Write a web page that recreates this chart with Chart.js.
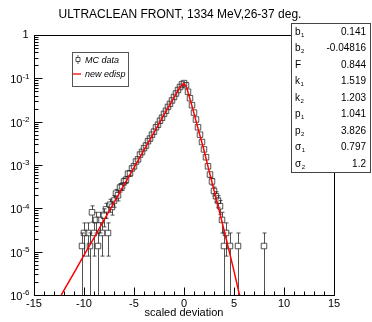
<!DOCTYPE html>
<html><head><meta charset="utf-8">
<script src="https://cdn.jsdelivr.net/npm/chart.js@4/dist/chart.umd.min.js"></script>
<style>html,body{margin:0;padding:0;background:#fff;}#wrap{width:372px;height:322px;}</style>
</head><body><div id="wrap"><canvas id="c" width="372" height="322"></canvas></div>
<script>
const titleText = 'ULTRACLEAN FRONT, 1334 MeV,26-37 deg.';
const xTitle = 'scaled deviation';
const xTickValues = [-15, -10, -5, 0, 5, 10, 15];
const yDecadeExps = [0, -1, -2, -3, -4, -5, -6];
const legendLabels = ['MC data', 'new edisp'];
const statNames = ['b', 'b', 'F', 'k', 'k', 'p', 'p', 'σ', 'σ'];
const statSubs = ['1', '2', '', '1', '2', '1', '2', '1', '2'];
const statValues = ['0.141', '-0.04816', '0.844', '1.519', '1.203', '1.041', '3.826', '0.797', '1.2'];

// fitted curve (new edisp)
const fitX = [-12.5, -12, -11, -10, -9, -8, -7, -6, -5, -4, -3, -2, -1.5, -1, -0.75, -0.5, -0.25, 0, 0.25, 0.5, 0.75, 1, 1.5, 2, 2.5, 3, 3.5, 4, 4.5, 5, 5.6];
const fitY = [8.1e-7, 1.29e-6, 3.24e-6, 8.3e-6, 2.09e-5, 5.37e-5, 1.35e-4, 3.47e-4, 8.7e-4, 2.24e-3, 5.6e-3, 1.45e-2, 2.29e-2, 3.63e-2, 4.57e-2, 5.75e-2, 6.9e-2, 7.6e-2, 6.3e-2, 3.98e-2, 2.51e-2, 1.55e-2, 5.75e-3, 2.19e-3, 7.4e-4, 2.63e-4, 9.3e-5, 3.16e-5, 1.07e-5, 3.55e-6, 8.9e-7];

// MC data
const dataX = [-10.2, -10.0, -9.6, -9.4, -9.2, -9.0, -8.8, -8.6, -8.4, -8.2, -8.0, -7.8, -7.6, -7.4, -7.2,
  -7.0, -6.8, -6.6, -6.4, -6.2, -6.0, -5.8, -5.6, -5.4, -5.2, -5.0, -4.8, -4.6, -4.4, -4.2, -4.0, -3.8, -3.6, -3.4, -3.2, -3.0,
  -2.8, -2.6, -2.4, -2.2, -2.0, -1.8, -1.6, -1.4, -1.2, -1.0, -0.8, -0.6, -0.4, -0.2, 0.0,
  0.2, 0.4, 0.6, 0.8, 1.0, 1.2, 1.4, 1.6, 1.8, 2.0, 2.2, 2.4, 2.6, 2.8, 3.0, 3.2, 3.4, 3.6, 3.8, 4.0, 4.2, 4.6, 5.4, 8.0];
const dataY = [1.35e-5, 2.7e-5, 2.7e-5, 1.35e-5, 8.1e-5, 2.7e-5, 5.4e-5, 1.35e-5, 5.4e-5, 2.7e-5, 6.75e-5, 9.45e-5, 2.7e-5, 1.215e-4, 1.08e-4,
  1.51e-4, 2.19e-4, 2.0e-4, 3.02e-4, 3.24e-4, 4.17e-4, 4.57e-4, 6.31e-4, 6.46e-4, 8.32e-4, 9.33e-4, 1.2e-3, 1.35e-3, 1.74e-3, 2.0e-3, 2.45e-3, 2.82e-3, 3.55e-3, 4.07e-3, 5.01e-3, 5.89e-3,
  7.41e-3, 8.51e-3, 1.05e-2, 1.23e-2, 1.51e-2, 1.78e-2, 2.19e-2, 2.57e-2, 3.09e-2, 3.72e-2, 4.47e-2, 5.37e-2, 6.31e-2, 7.24e-2, 7.76e-2,
  6.92e-2, 4.9e-2, 3.47e-2, 2.4e-2, 1.62e-2, 1.12e-2, 7.41e-3, 5.01e-3, 3.39e-3, 2.29e-3, 1.51e-3, 9.33e-4, 6.03e-4, 4.17e-4, 2.51e-4, 1.91e-4, 1.51e-4, 1.12e-4, 5.4e-5, 1.35e-5, 2.7e-5, 1.35e-5, 1.35e-5, 1.35e-5];
const dataErr = [1.35e-5, 1.91e-5, 1.91e-5, 1.35e-5, 3.31e-5, 1.91e-5, 2.7e-5, 1.35e-5, 2.7e-5, 1.91e-5, 3.02e-5, 3.57e-5, 1.91e-5, 4.05e-5, 3.82e-5,
  4.5e-5, 5.4e-5, 5.2e-5, 6.4e-5, 6.6e-5, 7.5e-5, 7.9e-5, 9.2e-5, 9.3e-5, 1.06e-4, 1.12e-4, 1.27e-4, 1.35e-4, 1.53e-4, 1.64e-4, 1.82e-4, 1.95e-4, 2.19e-4, 2.34e-4, 2.6e-4, 2.82e-4,
  3.16e-4, 3.39e-4, 3.77e-4, 4.07e-4, 4.52e-4, 4.9e-4, 5.44e-4, 5.89e-4, 6.46e-4, 7.09e-4, 7.77e-4, 8.51e-4, 9.23e-4, 9.89e-4, 1.02e-3,
  9.67e-4, 8.13e-4, 6.84e-4, 5.69e-4, 4.68e-4, 3.89e-4, 3.16e-4, 2.6e-4, 2.14e-4, 1.76e-4, 1.43e-4, 1.12e-4, 9.0e-5, 7.5e-5, 5.8e-5, 5.1e-5, 4.5e-5, 3.9e-5, 2.7e-5, 1.35e-5, 1.91e-5, 1.35e-5, 1.35e-5, 1.35e-5];

const FONT = '"Liberation Sans", Arial, sans-serif';
const markColor = 'rgba(40,40,40,0.8)';

const rootPlugin = {
  id: 'rootDecor',
  beforeDatasetsDraw(chart) {
    const ctx = chart.ctx, xs = chart.scales.x, ys = chart.scales.y, a = chart.chartArea;
    ctx.save();
    ctx.beginPath(); ctx.rect(a.left, a.top, a.right - a.left, a.bottom - a.top); ctx.clip();
    ctx.strokeStyle = markColor; ctx.lineWidth = 1;
    const h = 2.8, cap = 2;
    for (let i = 0; i < dataX.length; i++) {
      const px = Math.round(xs.getPixelForValue(dataX[i])) + 0.5;
      const py = ys.getPixelForValue(dataY[i]);
      const hiV = dataY[i] + dataErr[i], loV = dataY[i] - dataErr[i];
      const pHi = ys.getPixelForValue(hiV);
      const pLo = loV > 1e-9 ? Math.min(ys.getPixelForValue(loV), a.bottom) : a.bottom;
      ctx.beginPath();
      if (pHi < py - h) { ctx.moveTo(px, py - h); ctx.lineTo(px, pHi); ctx.moveTo(px - cap, pHi); ctx.lineTo(px + cap, pHi); }
      if (pLo > py + h) { ctx.moveTo(px, py + h); ctx.lineTo(px, pLo); if (pLo < a.bottom) { ctx.moveTo(px - cap, pLo); ctx.lineTo(px + cap, pLo); } }
      ctx.stroke();
    }
    ctx.restore();
  },
  afterDraw(chart) {
    const ctx = chart.ctx, xs = chart.scales.x, ys = chart.scales.y, a = chart.chartArea;
    ctx.save();
    const L = Math.round(a.left) + 0.5, R = Math.round(a.right) + 0.5, T = Math.round(a.top) + 0.5, B = Math.round(a.bottom) + 0.5;
    ctx.strokeStyle = '#000'; ctx.lineWidth = 1;
    ctx.strokeRect(L, T, R - L, B - T);
    // x ticks
    ctx.beginPath();
    for (let v = -15; v <= 15; v++) {
      const px = Math.round(xs.getPixelForValue(v)) + 0.5;
      const len = (v % 5 === 0) ? 8 : 4;
      ctx.moveTo(px, B); ctx.lineTo(px, B - len);
    }
    // y ticks
    for (const e of yDecadeExps) {
      const py = Math.round(ys.getPixelForValue(Math.pow(10, e))) + 0.5;
      ctx.moveTo(L, py); ctx.lineTo(L + 8, py);
      if (e < 0) {
        for (let m = 2; m <= 9; m++) {
          const pm = Math.round(ys.getPixelForValue(m * Math.pow(10, e))) + 0.5;
          ctx.moveTo(L, pm); ctx.lineTo(L + 4, pm);
        }
      }
    }
    ctx.stroke();
    // x labels
    ctx.fillStyle = '#000';
    ctx.font = '11px ' + FONT; ctx.textAlign = 'center'; ctx.textBaseline = 'middle';
    for (const v of xTickValues) ctx.fillText(String(v), xs.getPixelForValue(v), B + 8);
    // y labels
    for (const e of yDecadeExps) {
      const py = ys.getPixelForValue(Math.pow(10, e));
      if (e === 0) {
        ctx.font = '11px ' + FONT; ctx.textAlign = 'right'; ctx.textBaseline = 'middle';
        ctx.fillText('1', L - 6, py);
      } else {
        const sup = String(e);
        ctx.font = '8px ' + FONT; const sw = ctx.measureText(sup).width;
        ctx.textAlign = 'right'; ctx.textBaseline = 'middle';
        ctx.fillText(sup, L - 5, py - 2);
        ctx.font = '11px ' + FONT;
        ctx.fillText('10', L - 5 - sw, py + 2);
      }
    }
    // axis title
    ctx.font = '11px ' + FONT; ctx.textAlign = 'center'; ctx.textBaseline = 'middle';
    ctx.fillText(xTitle, xs.getPixelForValue(0), 313);
    // title
    ctx.font = '12px ' + FONT;
    ctx.fillText(titleText, 180, 15);
    // legend
    ctx.fillStyle = '#fff'; ctx.fillRect(72.5, 52.5, 56, 34);
    ctx.strokeStyle = '#555'; ctx.strokeRect(72.5, 52.5, 56, 34);
    ctx.strokeStyle = markColor; ctx.beginPath();
    ctx.rect(76, 57.5, 4, 4); ctx.moveTo(78, 55); ctx.lineTo(78, 57.5); ctx.moveTo(78, 61.5); ctx.lineTo(78, 64);
    ctx.stroke();
    ctx.strokeStyle = '#ff0000'; ctx.lineWidth = 1.3; ctx.beginPath(); ctx.moveTo(73, 74); ctx.lineTo(81, 74); ctx.stroke();
    ctx.fillStyle = '#000'; ctx.font = 'italic 9px ' + FONT; ctx.textAlign = 'left'; ctx.textBaseline = 'middle';
    ctx.fillText(legendLabels[0], 85, 60);
    ctx.fillText(legendLabels[1], 85, 74);
    // stats box
    ctx.lineWidth = 1;
    ctx.fillStyle = '#fff'; ctx.fillRect(291.5, 23.5, 79, 149);
    ctx.strokeStyle = '#444'; ctx.strokeRect(291.5, 23.5, 79, 149);
    ctx.fillStyle = '#000';
    for (let i = 0; i < statNames.length; i++) {
      const y = 32 + i * 16.5;
      ctx.font = '10px ' + FONT; ctx.textAlign = 'left';
      ctx.fillText(statNames[i], 295, y);
      const nw = ctx.measureText(statNames[i]).width;
      if (statSubs[i]) { ctx.font = '6px ' + FONT; ctx.fillText(statSubs[i], 295 + nw + 0.5, y + 3); }
      ctx.font = '10px ' + FONT; ctx.textAlign = 'right';
      ctx.fillText(statValues[i], 366, y);
    }
    ctx.restore();
  }
};

new Chart(document.getElementById('c'), {
  type: 'scatter',
  data: {
    datasets: [
      { label: legendLabels[1], data: fitX.map((x, i) => ({ x, y: fitY[i] })), showLine: true, borderColor: '#ff0000', borderWidth: 1.5, pointRadius: 0, tension: 0, fill: false },
      { label: legendLabels[0], data: dataX.map((x, i) => ({ x, y: dataY[i] })), showLine: false, pointStyle: 'rect', pointRadius: 3.9, borderColor: markColor, backgroundColor: 'rgba(0,0,0,0)', borderWidth: 1 }
    ]
  },
  options: {
    responsive: false, animation: false, devicePixelRatio: 1,
    layout: { padding: { left: 34, right: 38, top: 35, bottom: 27 } },
    plugins: { legend: { display: false }, tooltip: { enabled: false }, title: { display: false } },
    scales: {
      x: { type: 'linear', min: -15, max: 15, display: false },
      y: { type: 'logarithmic', min: 1e-6, max: 1, display: false }
    }
  },
  plugins: [rootPlugin]
});
</script></body></html>
